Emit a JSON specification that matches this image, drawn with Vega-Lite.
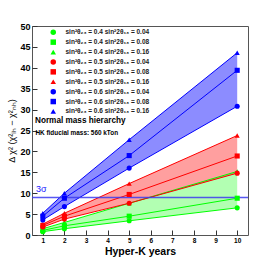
{
  "$schema": "https://vega.github.io/schema/vega-lite/v6.json",
  "width": 216,
  "height": 209,
  "autosize": "none",
  "padding": {"left": 32, "top": 26, "right": 28, "bottom": 27},
  "background": "white",
  "config": {
    "font": "Liberation Sans",
    "view": {"stroke": "#555", "strokeWidth": 1},
    "axis": {"grid": false, "domain": false, "tickColor": "#333", "labelFont": "Liberation Sans", "labelFontWeight": "bold", "labelColor": "#000", "titleColor": "#000", "labelOverlap": false}
  },
  "resolve": {"scale": {"color": "independent", "shape": "independent", "fillOpacity": "independent", "size": "independent"}, "legend": {"color": "independent", "shape": "independent"}},
  "datasets": {
    "pts": [
      {"t23": "0.4", "s13": "0.04", "year": 1, "chi2": 0.8},
      {"t23": "0.4", "s13": "0.04", "year": 2, "chi2": 1.5},
      {"t23": "0.4", "s13": "0.04", "year": 5, "chi2": 3.4},
      {"t23": "0.4", "s13": "0.04", "year": 10, "chi2": 6.5},
      {"t23": "0.4", "s13": "0.08", "year": 1, "chi2": 1.1},
      {"t23": "0.4", "s13": "0.08", "year": 2, "chi2": 2.2},
      {"t23": "0.4", "s13": "0.08", "year": 5, "chi2": 4.5},
      {"t23": "0.4", "s13": "0.08", "year": 10, "chi2": 8.8},
      {"t23": "0.4", "s13": "0.16", "year": 1, "chi2": 1.5},
      {"t23": "0.4", "s13": "0.16", "year": 2, "chi2": 3.0},
      {"t23": "0.4", "s13": "0.16", "year": 5, "chi2": 7.6},
      {"t23": "0.4", "s13": "0.16", "year": 10, "chi2": 15.2},
      {"t23": "0.5", "s13": "0.04", "year": 1, "chi2": 1.9},
      {"t23": "0.5", "s13": "0.04", "year": 2, "chi2": 3.8},
      {"t23": "0.5", "s13": "0.04", "year": 5, "chi2": 7.6},
      {"t23": "0.5", "s13": "0.04", "year": 10, "chi2": 14.8},
      {"t23": "0.5", "s13": "0.08", "year": 1, "chi2": 2.3},
      {"t23": "0.5", "s13": "0.08", "year": 2, "chi2": 4.5},
      {"t23": "0.5", "s13": "0.08", "year": 5, "chi2": 9.7},
      {"t23": "0.5", "s13": "0.08", "year": 10, "chi2": 18.9},
      {"t23": "0.5", "s13": "0.16", "year": 1, "chi2": 2.6},
      {"t23": "0.5", "s13": "0.16", "year": 2, "chi2": 5.2},
      {"t23": "0.5", "s13": "0.16", "year": 5, "chi2": 12.3},
      {"t23": "0.5", "s13": "0.16", "year": 10, "chi2": 23.8},
      {"t23": "0.6", "s13": "0.04", "year": 1, "chi2": 3.6},
      {"t23": "0.6", "s13": "0.04", "year": 2, "chi2": 6.8},
      {"t23": "0.6", "s13": "0.04", "year": 5, "chi2": 16.0},
      {"t23": "0.6", "s13": "0.04", "year": 10, "chi2": 30.8},
      {"t23": "0.6", "s13": "0.08", "year": 1, "chi2": 4.5},
      {"t23": "0.6", "s13": "0.08", "year": 2, "chi2": 8.8},
      {"t23": "0.6", "s13": "0.08", "year": 5, "chi2": 19.0},
      {"t23": "0.6", "s13": "0.08", "year": 10, "chi2": 39.4},
      {"t23": "0.6", "s13": "0.16", "year": 1, "chi2": 5.2},
      {"t23": "0.6", "s13": "0.16", "year": 2, "chi2": 10.0},
      {"t23": "0.6", "s13": "0.16", "year": 5, "chi2": 22.8},
      {"t23": "0.6", "s13": "0.16", "year": 10, "chi2": 43.6}
    ],
    "notes": [
      {"x": 0.64, "y": 27.3, "text": "Normal mass hierarchy", "kind": "title"},
      {"x": 0.66, "y": 24.3, "text": "HK fiducial mass: 560 kTon", "kind": "sub"}
    ],
    "sigma": [{"y": 9, "x": 0.68, "ty": 11.0, "text": "3σ"}]
  },
  "encoding": {
    "x": {"type": "quantitative", "scale": {"domain": [0.5, 10.5], "nice": false, "zero": false}, "axis": {"values": [1,2,3,4,5,6,7,8,9,10], "title": "Hyper-K years", "titleFontSize": 10.5, "titleFontWeight": "bold", "titlePadding": 3, "labelFontSize": 6.5, "tickSize": -5, "labelPadding": 7, "labelOverlap": false, "labelFlush": false, "labelBound": false}},
    "y": {"type": "quantitative", "scale": {"domain": [0, 50], "nice": false}, "axis": {"values": [0,5,10,15,20,25,30,35,40,45,50], "title": "Δ χ² (χ²ᵢₕ − χ²ₙₕ)", "titleFontSize": 9, "titleFontWeight": "normal", "titlePadding": 3, "labelFontSize": 9, "tickSize": -5, "labelPadding": 7, "labelOverlap": false, "labelFlush": false, "labelBound": false}}
  },
  "layer": [
    {
      "data": {"name": "pts"},
      "transform": [
        {"aggregate": [{"op": "min", "field": "chi2", "as": "lo"}, {"op": "max", "field": "chi2", "as": "hi"}], "groupby": ["t23", "year"]}
      ],
      "mark": {"type": "area", "strokeWidth": 0},
      "encoding": {
        "x": {"field": "year"},
        "y": {"field": "lo"},
        "y2": {"field": "hi"},
        "color": {"field": "t23", "type": "nominal", "scale": {"domain": ["0.4", "0.5", "0.6"], "range": ["#00ff00", "#ff0000", "#0000ff"]}, "legend": null},
        "fillOpacity": {"field": "t23", "type": "nominal", "scale": {"domain": ["0.4", "0.5", "0.6"], "range": [0.3, 0.45, 0.45]}, "legend": null},
        "detail": {"field": "t23"}
      }
    },
    {
      "data": {"name": "pts"},
      "transform": [{"calculate": "datum.t23 + '_' + datum.s13", "as": "series"}],
      "mark": {"type": "line", "strokeWidth": 1},
      "encoding": {
        "x": {"field": "year"},
        "y": {"field": "chi2"},
        "detail": {"field": "series"},
        "color": {"field": "t23", "type": "nominal", "scale": {"domain": ["0.4", "0.5", "0.6"], "range": ["#00ff00", "#ff0000", "#0000ff"]}, "legend": null}
      }
    },
    {
      "data": {"name": "sigma"},
      "mark": {"type": "rule", "color": "#3b3bf0", "strokeWidth": 1.5, "opacity": 0.85},
      "encoding": {"y": {"field": "y"}, "x": null}
    },
    {
      "data": {"name": "sigma"},
      "mark": {"type": "text", "color": "#2222ff", "align": "left", "baseline": "middle", "fontSize": 9},
      "encoding": {"x": {"field": "x"}, "y": {"field": "ty"}, "text": {"field": "text"}}
    },
    {
      "data": {"name": "pts"},
      "transform": [{"calculate": "'sin²θ₂₃ = ' + datum.t23 + '   sin²2θ₁₃ = ' + datum.s13", "as": "label"}],
      "mark": {"type": "point", "filled": true, "opacity": 1, "size": 26},
      "encoding": {
        "x": {"field": "year"},
        "y": {"field": "chi2"},
        "color": {
          "field": "label", "type": "nominal",
          "scale": {"domain": [
            "sin²θ₂₃ = 0.4   sin²2θ₁₃ = 0.04", "sin²θ₂₃ = 0.4   sin²2θ₁₃ = 0.08", "sin²θ₂₃ = 0.4   sin²2θ₁₃ = 0.16",
            "sin²θ₂₃ = 0.5   sin²2θ₁₃ = 0.04", "sin²θ₂₃ = 0.5   sin²2θ₁₃ = 0.08", "sin²θ₂₃ = 0.5   sin²2θ₁₃ = 0.16",
            "sin²θ₂₃ = 0.6   sin²2θ₁₃ = 0.04", "sin²θ₂₃ = 0.6   sin²2θ₁₃ = 0.08", "sin²θ₂₃ = 0.6   sin²2θ₁₃ = 0.16"],
            "range": ["#00ff00", "#00ff00", "#00ff00", "#ff0000", "#ff0000", "#ff0000", "#0000ff", "#0000ff", "#0000ff"]},
          "legend": {"orient": "none", "legendX": 18, "legendY": 3, "title": null, "labelFontSize": 6.5, "labelFont": "Liberation Sans", "labelFontWeight": "bold", "labelColor": "#222", "symbolSize": 30, "rowPadding": 2.9, "labelOffset": 9, "symbolStrokeWidth": 0}
        },
        "shape": {
          "field": "label", "type": "nominal",
          "scale": {"domain": [
            "sin²θ₂₃ = 0.4   sin²2θ₁₃ = 0.04", "sin²θ₂₃ = 0.4   sin²2θ₁₃ = 0.08", "sin²θ₂₃ = 0.4   sin²2θ₁₃ = 0.16",
            "sin²θ₂₃ = 0.5   sin²2θ₁₃ = 0.04", "sin²θ₂₃ = 0.5   sin²2θ₁₃ = 0.08", "sin²θ₂₃ = 0.5   sin²2θ₁₃ = 0.16",
            "sin²θ₂₃ = 0.6   sin²2θ₁₃ = 0.04", "sin²θ₂₃ = 0.6   sin²2θ₁₃ = 0.08", "sin²θ₂₃ = 0.6   sin²2θ₁₃ = 0.16"],
            "range": ["circle", "square", "triangle-up", "circle", "square", "triangle-up", "circle", "square", "triangle-up"]}
        }
      }
    },
    {
      "data": {"name": "notes"},
      "mark": {"type": "text", "align": "left", "baseline": "middle", "fontWeight": "bold", "color": "#000"},
      "encoding": {
        "x": {"field": "x"},
        "y": {"field": "y"},
        "text": {"field": "text"},
        "size": {"field": "kind", "type": "nominal", "scale": {"domain": ["title", "sub"], "range": [8.2, 6.4]}, "legend": null}
      }
    }
  ]
}
